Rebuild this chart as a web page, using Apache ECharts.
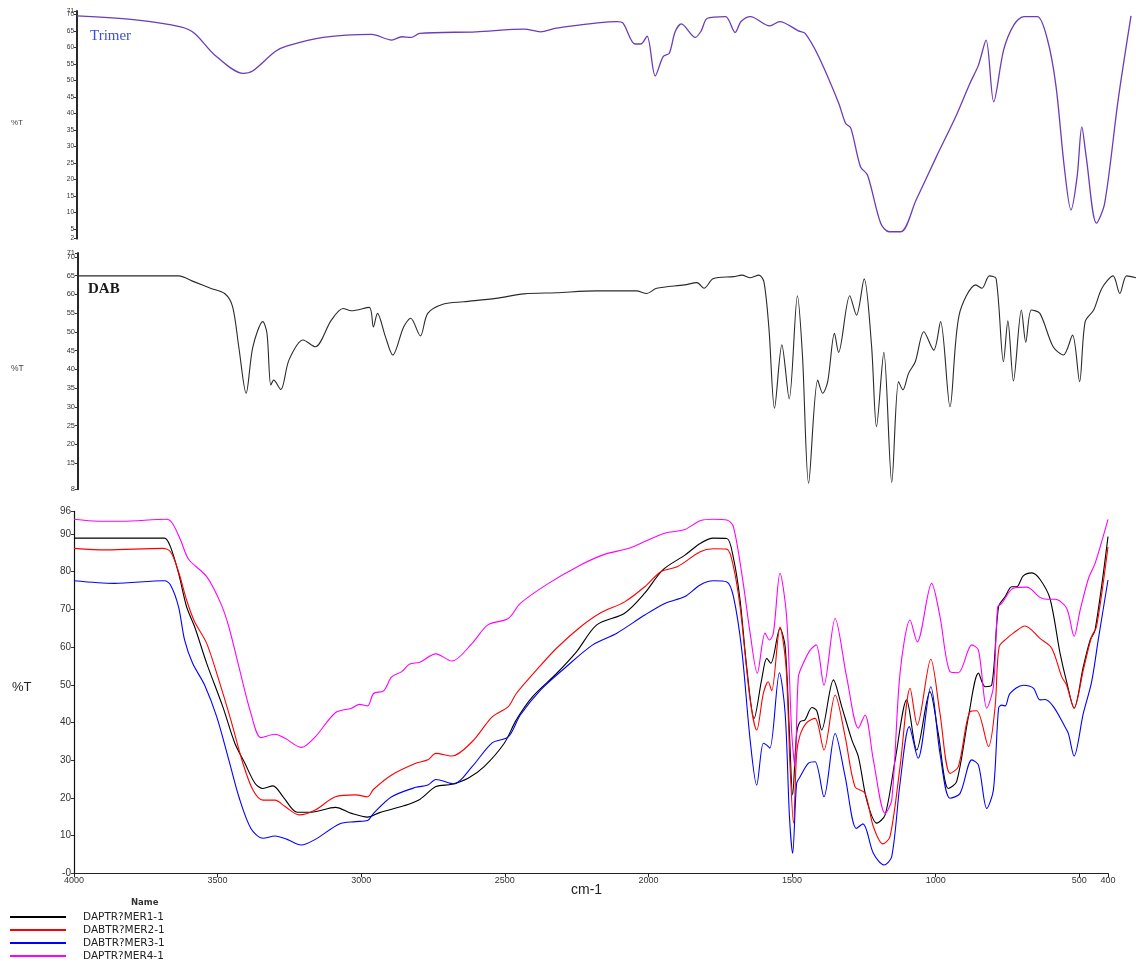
<!DOCTYPE html>
<html><head><meta charset="utf-8">
<script src="https://cdn.jsdelivr.net/npm/echarts@6/dist/echarts.min.js"></script>
<style>html,body{margin:0;padding:0;background:#fff}#c{width:1136px;height:967px}</style>
</head><body><div id="c"></div><script>
// wavenumber (cm-1), %T
const trimer = [[4000,69.5],[3800,68.3],[3646,66.2],[3598,64.2],[3530,57.7],[3433,52.1],[3399,52.9],[3323,58.7],[3282,60.4],[3159,63.0],[2994,63.9],[2925,62.2],[2891,63.2],[2859,63.0],[2829,64.2],[2637,64.7],[2472,65.5],[2417,64.7],[2362,65.8],[2156,67.8],[2135,67.3],[2094,61.0],[2074,61.0],[2053,63.4],[2025,51.3],[1998,57.2],[1977,58.2],[1957,64.7],[1936,67.1],[1888,63.0],[1868,65.0],[1847,68.8],[1785,69.3],[1752,64.5],[1732,67.8],[1700,69.3],[1634,66.5],[1600,67.8],[1536,65.0],[1513,64.2],[1467,57.2],[1398,43.0],[1375,37.0],[1357,35.5],[1324,23.8],[1300,21.3],[1255,6.7],[1226,4.1],[1186,4.1],[1134,13.7],[1065,26.8],[996,39.5],[950,49.1],[921,54.6],[895,62.2],[869,43.5],[835,59.2],[800,66.8],[766,69.3],[720,69.3],[685,62.2],[656,48.1],[628,23.8],[605,10.7],[584,20.8],[568,35.9],[553,26.8],[518,6.7],[490,12.7],[444,44.0],[400,69.5]];
const dab = [[4000,64.9],[3877,64.9],[3658,64.9],[3604,63.3],[3549,61.6],[3501,60.2],[3474,56.7],[3453,46.0],[3428,33.6],[3405,46.0],[3371,52.7],[3357,49.6],[3344,35.8],[3334,37.1],[3310,34.6],[3282,42.5],[3234,47.8],[3193,46.0],[3138,53.1],[3098,56.2],[3070,55.6],[3009,56.5],[2995,51.3],[2981,54.9],[2954,48.7],[2929,43.8],[2892,51.3],[2868,53.6],[2835,48.9],[2810,54.9],[2756,57.4],[2688,58.0],[2578,58.9],[2482,60.1],[2373,60.4],[2236,60.9],[2100,60.9],[2065,60.2],[2031,61.6],[1936,62.5],[1894,63.1],[1870,61.6],[1838,64.2],[1769,64.7],[1741,65.1],[1712,64.4],[1683,65.1],[1666,63.3],[1649,50.9],[1630,29.6],[1605,46.5],[1580,32.1],[1552,59.6],[1535,43.8],[1514,9.6],[1483,37.1],[1466,33.6],[1449,36.7],[1426,49.6],[1412,44.5],[1374,59.6],[1351,54.4],[1325,64.1],[1300,46.5],[1283,24.7],[1258,44.5],[1231,9.8],[1208,36.7],[1193,34.5],[1174,38.9],[1151,42.0],[1122,50.0],[1088,45.1],[1065,52.7],[1033,30.0],[1002,54.4],[945,62.5],[924,61.6],[899,64.9],[876,64.2],[851,42.0],[836,52.9],[817,36.9],[790,55.8],[775,47.2],[756,55.8],[727,54.9],[682,46.0],[647,43.8],[616,49.1],[592,36.7],[573,52.7],[544,55.8],[516,61.6],[478,64.9],[455,60.2],[432,64.9],[400,64.4]];
const s1 = [[4000,88.9],[3699,88.9],[3685,88.9],[3664,86.6],[3636,79.6],[3608,70.7],[3580,65.4],[3538,55.7],[3482,44.2],[3440,34.5],[3405,29.2],[3370,23.9],[3342,22.5],[3307,23.2],[3272,20.3],[3223,16.2],[3174,16.2],[3090,17.5],[3034,15.9],[2978,14.9],[2936,16.1],[2852,17.9],[2796,19.6],[2740,23.0],[2684,23.6],[2628,25.2],[2572,28.3],[2502,34.5],[2460,40.7],[2404,46.8],[2320,53.0],[2250,58.8],[2180,65.9],[2083,69.0],[2013,74.3],[1950,80.5],[1873,84.4],[1820,87.5],[1774,88.9],[1727,88.8],[1704,83.6],[1681,72.5],[1658,54.8],[1632,41.1],[1606,51.3],[1588,57.0],[1574,55.7],[1542,65.0],[1524,60.1],[1509,37.1],[1498,20.8],[1484,37.1],[1472,40.2],[1455,40.7],[1431,44.0],[1414,43.1],[1397,38.0],[1356,51.3],[1327,44.2],[1292,35.4],[1269,30.9],[1240,19.4],[1205,13.3],[1176,15.5],[1141,30.1],[1101,46.0],[1066,32.7],[1020,48.2],[991,37.1],[956,22.5],[927,24.3],[886,41.5],[851,53.1],[828,49.5],[805,49.9],[781,70.7],[758,73.4],[735,76.0],[718,76.0],[695,78.9],[665,79.7],[637,78.0],[602,72.9],[567,58.4],[544,50.8],[518,43.8],[486,54.8],[462,61.9],[445,64.5],[400,89.3]];
const s2 = [[4000,86.2],[3888,85.8],[3692,86.2],[3664,85.3],[3636,80.0],[3608,72.5],[3580,66.7],[3538,61.0],[3496,51.3],[3454,40.7],[3412,29.2],[3377,22.1],[3342,19.4],[3300,19.4],[3265,17.7],[3216,15.5],[3160,16.8],[3090,20.3],[3020,20.8],[2978,20.3],[2957,22.3],[2894,26.1],[2810,29.2],[2768,30.1],[2740,31.8],[2684,31.1],[2614,34.9],[2544,41.5],[2488,44.2],[2460,47.7],[2390,53.9],[2320,59.7],[2236,65.4],[2166,69.1],[2083,72.0],[2013,76.0],[1957,80.0],[1900,81.3],[1820,85.3],[1774,86.1],[1727,86.0],[1704,81.3],[1681,70.7],[1646,46.0],[1623,38.0],[1600,47.7],[1583,50.8],[1571,48.4],[1542,65.3],[1521,54.8],[1507,28.3],[1495,13.3],[1484,31.8],[1472,36.7],[1449,40.0],[1420,41.1],[1389,32.7],[1350,47.3],[1315,36.2],[1281,23.0],[1246,21.2],[1217,12.4],[1184,7.8],[1159,9.7],[1124,28.3],[1089,49.1],[1064,39.3],[1017,56.8],[985,42.4],[950,26.5],[921,28.3],[880,42.9],[857,43.1],[816,33.6],[793,44.2],[779,60.1],[752,62.3],[730,63.7],[689,65.6],[637,62.3],[596,59.7],[561,52.1],[544,49.9],[518,43.8],[486,53.9],[457,62.8],[440,65.4],[400,86.6]];
const s3 = [[4000,77.6],[3860,76.9],[3685,77.6],[3664,76.5],[3636,70.7],[3615,61.9],[3587,55.7],[3545,49.9],[3503,41.5],[3461,30.1],[3426,20.3],[3384,11.9],[3342,9.3],[3300,9.9],[3258,9.0],[3209,7.5],[3160,9.0],[3076,13.1],[3020,13.7],[2978,14.0],[2957,15.9],[2894,20.3],[2810,22.8],[2768,23.4],[2740,24.9],[2677,23.7],[2614,28.3],[2544,34.6],[2488,36.2],[2446,42.0],[2376,48.6],[2292,54.4],[2194,60.6],[2110,63.7],[2013,68.5],[1943,71.6],[1873,73.4],[1820,76.5],[1774,77.6],[1727,77.3],[1704,73.4],[1675,59.2],[1646,35.4],[1623,23.4],[1600,34.5],[1588,34.0],[1577,33.2],[1544,53.2],[1524,42.4],[1509,15.0],[1498,5.3],[1484,23.9],[1472,25.6],[1443,29.2],[1420,29.6],[1389,20.3],[1350,37.1],[1315,25.6],[1276,11.9],[1253,13.1],[1217,5.3],[1180,2.2],[1153,4.4],[1124,23.9],[1092,38.9],[1061,30.5],[1017,49.5],[985,31.8],[950,19.9],[915,21.2],[874,30.1],[851,28.7],[822,17.2],[799,22.1],[781,43.8],[770,44.6],[758,44.4],[741,47.7],[695,49.9],[660,49.1],[637,46.0],[619,46.1],[590,44.2],[550,38.9],[538,37.1],[518,31.1],[486,42.4],[457,50.8],[434,61.9],[400,77.8]];
const s4 = [[4000,93.9],[3916,93.4],[3832,93.4],[3678,93.9],[3657,92.8],[3629,88.4],[3601,83.3],[3538,78.7],[3489,71.6],[3461,65.4],[3426,54.8],[3384,42.4],[3349,36.0],[3300,36.9],[3265,35.8],[3209,33.4],[3160,36.2],[3090,42.6],[3034,43.8],[3006,44.8],[2978,44.4],[2957,47.7],[2922,48.4],[2894,52.1],[2859,53.5],[2831,55.5],[2796,56.0],[2740,58.2],[2684,56.3],[2614,61.0],[2559,65.9],[2488,67.6],[2446,71.6],[2348,76.9],[2236,81.8],[2153,84.6],[2068,86.2],[2013,88.0],[1943,90.2],[1873,91.2],[1820,93.5],[1774,93.9],[1727,93.7],[1704,91.9],[1670,76.9],[1646,63.7],[1621,53.1],[1594,63.7],[1579,61.9],[1565,63.7],[1542,79.6],[1519,68.1],[1501,37.1],[1490,28.3],[1478,52.1],[1461,55.7],[1437,59.2],[1416,60.6],[1389,49.9],[1350,67.6],[1310,52.1],[1269,38.5],[1246,42.0],[1217,30.1],[1176,15.9],[1153,19.4],[1124,53.1],[1089,67.2],[1064,61.4],[1014,76.9],[985,68.1],[950,53.5],[921,53.2],[874,60.6],[851,59.2],[822,43.8],[799,49.5],[784,70.7],[770,71.6],[730,75.6],[683,75.9],[637,73.2],[613,72.7],[584,72.7],[544,70.3],[518,62.9],[497,69.8],[468,78.2],[445,82.2],[400,93.9]];

const topTicks = [2,5,10,15,20,25,30,35,40,45,50,55,60,65,70];
const midTicks = [8,10,15,20,25,30,35,40,45,50,55,60,65,70];
const capTick = [71];
const botTicks = [0,10,20,30,40,50,60,70,80,90,96];
const xTicks = [4000,3500,3000,2500,2000,1500,1000,500,400];
const names = ['DAPTR?MER1-1','DABTR?MER2-1','DABTR?MER3-1','DAPTR?MER4-1'];
const colors = ['#000000','#ff0000','#0000ff','#ff00ff'];

const chart = echarts.init(document.getElementById('c'));
const F = 'Liberation Sans, Arial, sans-serif';
function yAx(grid, min, max, ticks, fs, lw, fmt, noLine) {
  return {type:'value', gridIndex:grid, min:min, max:max, position:'left', offset:0,
    axisLine:{show:!noLine, lineStyle:{color:'#111', width:lw}},
    axisTick:{show:true, customValues:ticks, length:3, lineStyle:{color:'#333'}},
    axisLabel:{customValues:ticks, fontSize:fs, color:'#333', fontFamily:F, margin:3,
      showMinLabel:true, showMaxLabel:true, hideOverlap:false, formatter:fmt || (v=>String(v))},
    splitLine:{show:false}};
}
function xHidden(grid){
  return {type:'value', gridIndex:grid, min:400, max:4000, inverse:true, show:false};
}
const series = [
  {type:'line', name:'Trimer', xAxisIndex:0, yAxisIndex:0, data:trimer, showSymbol:false, smooth:0.3, lineStyle:{color:'#6a3cb8', width:1.3}},
  {type:'line', name:'DAB', xAxisIndex:1, yAxisIndex:1, data:dab, showSymbol:false, smooth:0.3, lineStyle:{color:'#2a2a2a', width:1.1}}
];
[s1,s2,s3,s4].forEach((d,i)=>series.push({type:'line', name:names[i], xAxisIndex:2, yAxisIndex:2, data:d, showSymbol:false, smooth:0.3, color:colors[i], lineStyle:{color:colors[i], width:1.1}}));

chart.setOption({
  animation:false,
  backgroundColor:'#fff',
  grid:[
    {left:77, top:11, width:1054, height:227.7, outerBoundsMode:'none'},
    {left:78, top:253, width:1058, height:236.3, outerBoundsMode:'none'},
    {left:74, top:511.4, width:1034, height:361.9, outerBoundsMode:'none'}
  ],
  xAxis:[xHidden(0), xHidden(1),
    {type:'value', gridIndex:2, min:400, max:4000, inverse:true,
     axisLine:{show:true, lineStyle:{color:'#222', width:1.2}},
     axisTick:{show:true, customValues:xTicks, length:4, lineStyle:{color:'#222'}},
     axisLabel:{customValues:xTicks, fontSize:9, color:'#333', fontFamily:F, margin:3, hideOverlap:false,
       showMinLabel:true, showMaxLabel:true, formatter:v=>String(v)},
     splitLine:{show:false}}
  ],
  yAxis:[
    yAx(0,2,71,topTicks,6.5,1.8),
    yAx(1,8,71,midTicks,7.5,1.8),
    yAx(2,0,96,botTicks,10,1.2,v=>v===0?'-0':String(v)),
    yAx(0,2,71,capTick,6.5,1.8,null,true),
    yAx(1,8,71,capTick,7.5,1.8,null,true)
  ],
  legend:{data:names, orient:'vertical', left:10, top:911, padding:0, icon:'rect', itemWidth:56, itemHeight:2, itemGap:1,
    textStyle:{fontSize:10.5, color:'#222', fontFamily:'DejaVu Sans, sans-serif', padding:[0,0,0,12], lineHeight:12}},
  series:series,
  graphic:[
    {type:'text', left:90, top:29, style:{text:'Trimer', font:'15px "Liberation Serif", "DejaVu Serif", serif', fill:'#3d4ed6'}},
    {type:'text', left:88, top:282, style:{text:'DAB', font:'bold 15px "Liberation Serif", "DejaVu Serif", serif', fill:'#1a1a1a'}},
    {type:'text', left:11, top:119, style:{text:'%T', font:'8px "Liberation Sans", sans-serif', fill:'#444'}},
    {type:'text', left:11, top:364, style:{text:'%T', font:'8.5px "Liberation Sans", sans-serif', fill:'#444'}},
    {type:'text', left:12, top:681, style:{text:'%T', font:'13px "Liberation Sans", sans-serif', fill:'#222'}},
    {type:'text', left:571, top:883, style:{text:'cm-1', font:'14px "Liberation Sans", sans-serif', fill:'#222'}},
    {type:'text', left:131, top:898, style:{text:'Name', font:'bold 8.5px "DejaVu Sans", sans-serif', fill:'#333'}}
  ]
});
</script></body></html>
